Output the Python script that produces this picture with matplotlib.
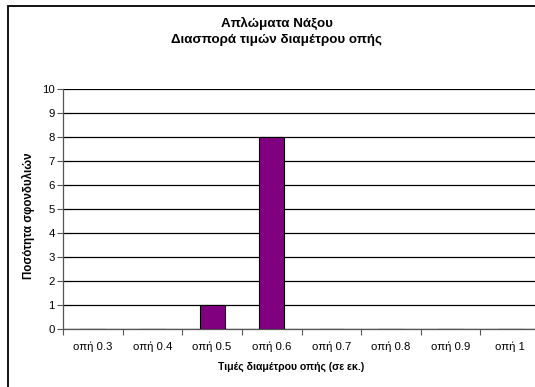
import numpy as np
import matplotlib.pyplot as plt
import matplotlib.patches as mpatches

plt.rcParams['font.family'] = ['Liberation Sans', 'DejaVu Sans']

categories = ['οπή 0.3', 'οπή 0.4', 'οπή 0.5', 'οπή 0.6', 'οπή 0.7', 'οπή 0.8', 'οπή 0.9', 'οπή 1']
counts = [0, 0, 1, 8, 0, 0, 0, 0]
yticks = list(range(0, 11))

W, H = 535, 387
fig = plt.figure(figsize=(W / 100, H / 100), dpi=100)
fig.patch.set_facecolor('white')

# outer chart border (cropped at right and bottom like the reference)
fig.patches.append(mpatches.Rectangle((8 / W, -0.05), 1.2, (H - 6) / H + 0.05,
                                      transform=fig.transFigure, fill=False,
                                      ec='black', lw=1.3))

ax = fig.add_axes([63 / W, 1 - 329 / H, 477 / W, 240 / H])
x = np.arange(len(categories))
ax.bar(x, counts, width=0.42, color='#800080', edgecolor='black', lw=0.8, zorder=3)

ax.set_xlim(-0.5, len(categories) - 0.5)
ax.set_ylim(0, 10)
ax.set_yticks(yticks)
ax.yaxis.grid(True, color='black', lw=0.9, zorder=0)
ax.set_axisbelow(True)

ax.set_xticks(x)
ax.set_xticklabels(categories, fontsize=8.2)
ax.set_xticks(np.arange(len(categories) + 1) - 0.5, minor=True)
ax.tick_params(axis='x', which='major', length=0, pad=9)
ax.tick_params(axis='x', which='minor', length=4, width=0.8, color='#555555', direction='out')
ax.tick_params(axis='y', length=4, width=0.8, labelsize=8.2, pad=2, color='#555555')

for s in ['top', 'right']:
    ax.spines[s].set_visible(False)
ax.spines['left'].set_color('#555555')
ax.spines['bottom'].set_color('#555555')
ax.spines['left'].set_linewidth(0.9)
ax.spines['bottom'].set_linewidth(0.9)

ax.set_xlabel('Τιμές διαμέτρου οπής (σε εκ.)', fontsize=7.6, fontweight='bold')
ax.xaxis.set_label_coords((291 - 63) / 477, -(362 - 329) / 240)
ax.set_ylabel('Ποσότητα σφονδυλιών', fontsize=8.3, fontweight='bold')
ax.yaxis.set_label_coords(-(63 - 35) / 477, (329 - 216) / 240)

fig.text(277 / W, 1 - 23 / H, 'Απλώματα Νάξου', ha='center', va='center',
         fontsize=9.6, fontweight='bold')
fig.text(276 / W, 1 - 40 / H, 'Διασπορά τιμών διαμέτρου οπής', ha='center', va='center',
         fontsize=9.6, fontweight='bold')

fig.savefig('out.png', dpi=100)
